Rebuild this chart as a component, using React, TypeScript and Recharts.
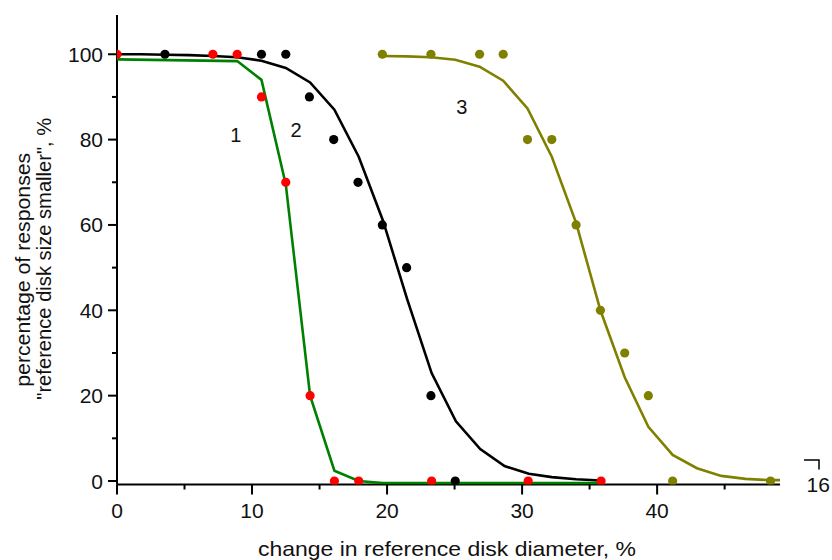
import React from 'react';
import { ComposedChart, Scatter, XAxis, YAxis, Label } from 'recharts';

const FONT = '"Liberation Sans", Arial, Helvetica, sans-serif';

// Measured responses (points)
const resp1X = [0, 7.1, 8.9, 10.7, 12.5, 14.3, 16.1, 17.9, 23.3, 30.45, 35.85];
const resp1Y = [100, 100, 100, 90, 70, 20, 0, 0, 0, 0, 0];
const resp2X = [3.55, 10.7, 12.5, 14.25, 16.05, 17.85, 19.65, 21.45, 23.25, 25.05];
const resp2Y = [100, 100, 100, 90, 80, 70, 60, 50, 20, 0];
const resp3X = [19.65, 23.25, 26.85, 28.6, 30.4, 32.2, 34.0, 35.8, 37.6, 39.35, 41.15, 48.4];
const resp3Y = [100, 100, 100, 100, 80, 80, 60, 40, 30, 20, 0, 0];

// Fitted curves
const fit1X = [0, 8.9, 10.7, 12.5, 14.3, 16.1, 17.9, 19.7, 35.8];
const fit1Y = [98.8, 98.4, 94, 69.5, 20, 2.4, 0, -0.5, -0.5];
const fit2X = [0, 1.8, 3.55, 5.35, 7.1, 8.9, 10.7, 12.5, 14.3, 16.1, 17.9, 19.7, 21.5, 23.3, 25.1, 26.9, 28.7, 30.5, 32.2, 34.0, 35.8];
const fit2Y = [100, 100, 99.9, 99.8, 99.6, 99.3, 98.5, 96.8, 93.4, 87, 76, 61, 42.5, 25.3, 14, 7.5, 3.5, 1.7, 0.9, 0.4, 0.1];
const fit3X = [19.65, 21.45, 23.25, 25.05, 26.85, 28.6, 30.4, 32.2, 34.0, 35.8, 37.6, 39.35, 41.15, 42.95, 44.75, 46.55, 48.35, 49.1];
const fit3Y = [99.6, 99.5, 99.3, 98.7, 97.1, 93.8, 87.3, 76, 60.5, 40, 24.3, 12.7, 6.1, 3.0, 1.2, 0.5, 0.2, 0.2];

// Curve labels
const curveLabelX = [8.8, 13.27, 25.53];
const curveLabelY = [81.1, 82.2, 87.7];
const curveLabelText = ['1', '2', '3'];

const xTicks = [0, 5, 10, 15, 20, 25, 30, 35, 40, 45];
const yTicks = [0, 10, 20, 30, 40, 50, 60, 70, 80, 90, 100];

const xTitle = 'change in reference disk diameter, %';
const yTitle1 = 'percentage of responses';
const yTitle2 = '"reference disk size smaller", %';
const pageNumber = '16';

const zip = (xs: number[], ys: number[]) => xs.map((x, i) => ({ x, y: ys[i] }));

const resp1 = zip(resp1X, resp1Y);
const resp2 = zip(resp2X, resp2Y);
const resp3 = zip(resp3X, resp3Y);
const fit1 = zip(fit1X, fit1Y);
const fit2 = zip(fit2X, fit2Y);
const fit3 = zip(fit3X, fit3Y);
const curveLabels = curveLabelX.map((x, i) => ({ x, y: curveLabelY[i], t: curveLabelText[i] }));

const dot = (color: string) => (p: any) => <circle cx={p.cx} cy={p.cy} r={4.6} fill={color} />;
const noDot = () => <g />;
const textShape = (p: any) => (
  <text x={p.cx} y={p.cy + 7} textAnchor="middle" fontSize={20} fontFamily={FONT} fill="#111">
    {p.payload.t}
  </text>
);

const XTick = (props: any) => {
  const { x, y, payload } = props;
  const v = payload.value;
  const major = v % 10 === 0;
  return (
    <g>
      <line x1={x} y1={y} x2={x} y2={y + (major ? 10 : 5)} stroke="#000" strokeWidth={2} />
      {major && (
        <text x={x} y={y + 33.5} textAnchor="middle" fontSize={21} fontFamily={FONT} fill="#111">
          {v}
        </text>
      )}
    </g>
  );
};

const YTick = (props: any) => {
  const { x, y, payload } = props;
  const v = payload.value;
  const major = v % 20 === 0;
  return (
    <g>
      <line x1={x} y1={y} x2={x - (major ? 9 : 5)} y2={y} stroke="#000" strokeWidth={2} />
      {major && (
        <text x={x - 14} y={y + 7.5} textAnchor="end" fontSize={21} fontFamily={FONT} fill="#111">
          {v}
        </text>
      )}
    </g>
  );
};

const XTitle = (props: any) => {
  const vb = props.viewBox;
  const cx = vb.x + vb.width / 2 - 1.5;
  return (
    <text x={cx} y={vb.y + 71.5} textAnchor="middle" fontSize={21} fontFamily={FONT} fill="#111"
      textLength={378} lengthAdjust="spacingAndGlyphs">
      {xTitle}
    </text>
  );
};

const YTitle = (props: any) => {
  const vb = props.viewBox;
  const cy = vb.y + vb.height / 2;
  const x1 = vb.x + 13;
  const y1 = cy + 20;
  const x2 = vb.x + 34;
  const y2 = cy + 9;
  return (
    <g>
      <text x={x1} y={y1} transform={`rotate(-90, ${x1}, ${y1})`} textAnchor="middle" fontSize={21}
        fontFamily={FONT} fill="#111" textLength={234} lengthAdjust="spacingAndGlyphs">
        {yTitle1}
      </text>
      <text x={x2} y={y2} transform={`rotate(-90, ${x2}, ${y2})`} textAnchor="middle" fontSize={21}
        fontFamily={FONT} fill="#111" textLength={282} lengthAdjust="spacingAndGlyphs">
        {yTitle2}
      </text>
    </g>
  );
};

export default function App() {
  return (
    <div style={{ position: 'absolute', left: 0, top: 0, width: 832, height: 560, background: '#fff' }}>
      <ComposedChart width={832} height={560} margin={{ top: 15, right: 52, bottom: 15.5, left: 17 }}>
        <XAxis
          type="number"
          dataKey="x"
          domain={[0, 49.1]}
          ticks={xTicks}
          interval={0}
          allowDataOverflow
          height={60}
          tickSize={0}
          tickMargin={0}
          tick={<XTick />}
          axisLine={{ stroke: '#000', strokeWidth: 2 }}
        >
          <Label content={<XTitle />} />
        </XAxis>
        <YAxis
          type="number"
          dataKey="y"
          domain={[-0.82, 109.2]}
          ticks={yTicks}
          interval={0}
          allowDataOverflow
          width={100}
          tickSize={0}
          tickMargin={0}
          tick={<YTick />}
          axisLine={{ stroke: '#000', strokeWidth: 2 }}
        >
          <Label content={<YTitle />} />
        </YAxis>
        <Scatter data={fit1} line={{ stroke: '#008000', strokeWidth: 2.6 }} lineType="joint" shape={noDot} isAnimationActive={false} />
        <Scatter data={fit2} line={{ stroke: '#000000', strokeWidth: 2.6 }} lineType="joint" shape={noDot} isAnimationActive={false} />
        <Scatter data={fit3} line={{ stroke: '#808000', strokeWidth: 2.6 }} lineType="joint" shape={noDot} isAnimationActive={false} />
        <Scatter data={resp2} shape={dot('#000000')} isAnimationActive={false} />
        <Scatter data={resp3} shape={dot('#808000')} isAnimationActive={false} />
        <Scatter data={resp1} shape={dot('#ff0000')} isAnimationActive={false} />
        <Scatter data={curveLabels} shape={textShape} isAnimationActive={false} />
      </ComposedChart>
      <svg width={832} height={560} style={{ position: 'absolute', left: 0, top: 0, pointerEvents: 'none' }}>
        <path d="M804 460 H819 V469.5" stroke="#000" strokeWidth={1.5} fill="none" />
        <text x={818.3} y={491.5} textAnchor="middle" fontSize={21} fontFamily={FONT} fill="#111">
          {pageNumber}
        </text>
      </svg>
    </div>
  );
}
